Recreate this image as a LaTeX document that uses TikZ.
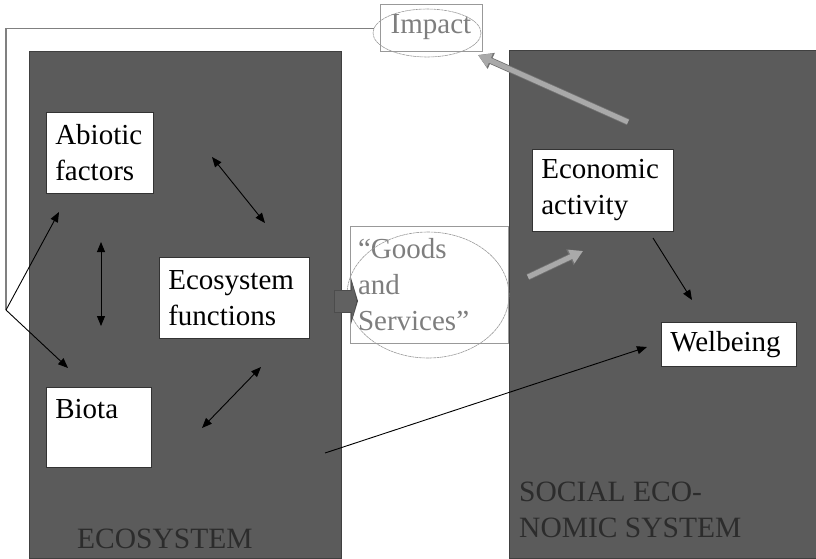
\documentclass[tikz,border=0pt]{standalone}
\usepackage{fontspec}
\setmainfont{Liberation Serif}
\usetikzlibrary{arrows.meta,shapes.geometric}
\definecolor{panelgray}{HTML}{5B5B5B}
\definecolor{paneltext}{HTML}{2C2C2C}
\definecolor{lightarrow}{HTML}{A9A9A9}
\definecolor{softtext}{HTML}{7E7E7E}
\begin{document}
\begin{tikzpicture}[x=1pt,y=-1pt,
  panel/.style={fill=panelgray, draw=black!75, line width=0.6pt, anchor=north west, inner sep=0pt},
  whitebox/.style={fill=white, draw=black!80, line width=0.6pt, anchor=north west, align=left,
    inner xsep=9pt, inner ysep=0pt, font=\fontsize{29}{36}\selectfont},
  syslabel/.style={text=paneltext, font=\fontsize{29.5}{36}\selectfont, inner sep=0pt, align=left},
  thinarrow/.style={draw=black, line width=0.9pt, -{Triangle[length=10pt,width=8pt]}},
  thinboth/.style={draw=black, line width=0.9pt, {Triangle[length=10pt,width=8pt]}-{Triangle[length=10pt,width=8pt]}},
  fatarrow/.style={draw=lightarrow, line width=5pt, -{Triangle[length=13pt,width=14pt]},
    preaction={draw=black!55, line width=6.6pt, -{Triangle[length=14.5pt,width=16.5pt]}}},
  fbline/.style={draw=black!50, line width=1.1pt},
  softbox/.style={draw=black!40, line width=0.6pt},
  softellipse/.style={ellipse, draw=black!40, line width=0.6pt, dash pattern=on 3pt off 0.6pt}
]
\useasboundingbox (0,0) rectangle (816,558);

% panels
\node[panel, minimum width=312pt, minimum height=507pt] (eco) at (29,51) {};
\node[panel, minimum width=312pt, minimum height=508pt] (soc) at (509,50) {};

% white boxes
\node[whitebox, minimum width=107pt, minimum height=81pt, text width=89pt] (abi) at (46,112) {Abiotic\\factors};
\node[whitebox, minimum width=150pt, minimum height=81pt, text width=132pt] (ef) at (159,257) {Ecosystem\\functions};
\node[whitebox, minimum width=105pt, minimum height=80pt, text width=87pt] (bio) at (46,387) {Biota\\\mbox{}};
\node[whitebox, minimum width=141pt, minimum height=82pt, text width=123pt] (ea) at (532,149) {Economic\\activity};
\node[whitebox, minimum width=135pt, minimum height=44pt, text width=117pt] (wb) at (661,322) {Welbeing};

% system labels
\node[syslabel, anchor=base west] (ecolab) at (77,548) {ECOSYSTEM};
\node[syslabel, anchor=north west] (soclab) at (519,482) {SOCIAL ECO-\\NOMIC SYSTEM};

% goods and services
\node[softbox, minimum width=158pt, minimum height=117pt, text width=142pt, inner sep=8pt,
  align=left, text=softtext, font=\fontsize{29}{36}\selectfont] (gs) at (429,284.5)
  {“Goods\\and\\Services”};
\node[softellipse, minimum width=162pt, minimum height=126pt] (gsell) at (428,295) {};

% impact
\node[softbox, minimum width=102pt, minimum height=47pt, inner sep=0pt, text=softtext,
  font=\fontsize{29}{36}\selectfont] (imp) at (431,27.5) {Impact};
\node[softellipse, minimum width=108pt, minimum height=48pt] (impell) at (427,33) {};

% coordinates for free arrow ends
\coordinate (fb) at (6,310);
\coordinate (abiEnd) at (59,212);
\coordinate (bioEnd) at (68,368);
\coordinate (a1s) at (212,157);
\coordinate (a1e) at (265,223);
\coordinate (a2s) at (101,242);
\coordinate (a2e) at (101,326);
\coordinate (a3s) at (202,428);
\coordinate (a3e) at (261,367);
\coordinate (longS) at (325,453);
\coordinate (longE) at (647,347);
\coordinate (ewS) at (653,238);
\coordinate (ewE) at (692,300);
\coordinate (impS) at (628,122);
\coordinate (impE) at (478,55);
\coordinate (ecS) at (528,277);
\coordinate (ecE) at (583,251);
\coordinate (blkS) at (334,301);
\coordinate (blkE) at (358,301);

% feedback line from Impact
\draw[fbline] (impell.175) -| (fb);
\draw[thinarrow] (fb) -- (abiEnd);
\draw[thinarrow] (fb) -- (bioEnd);

% interactions inside ecosystem
\draw[thinboth] (a1s) -- (a1e);
\draw[thinboth] (a2s) -- (a2e);
\draw[thinboth] (a3s) -- (a3e);

% ecosystem functions -> goods and services (block arrow)
\draw[draw=black!70, line width=23pt, -{Triangle[length=7pt,width=46pt]}] (blkS) -- (blkE);
\draw[draw=black!62, line width=21pt, -{Triangle[length=5pt,width=42pt]}] ([xshift=1pt]blkS) -- ([xshift=-1.5pt]blkE);

% gray fat arrows
\draw[fatarrow] (impS) -- (impE);
\draw[fatarrow] (ecS) -- (ecE);

% economic activity -> welbeing
\draw[thinarrow] (ewS) -- (ewE);
% ecosystem -> welbeing
\draw[thinarrow] (longS) -- (longE);
\end{tikzpicture}
\end{document}
